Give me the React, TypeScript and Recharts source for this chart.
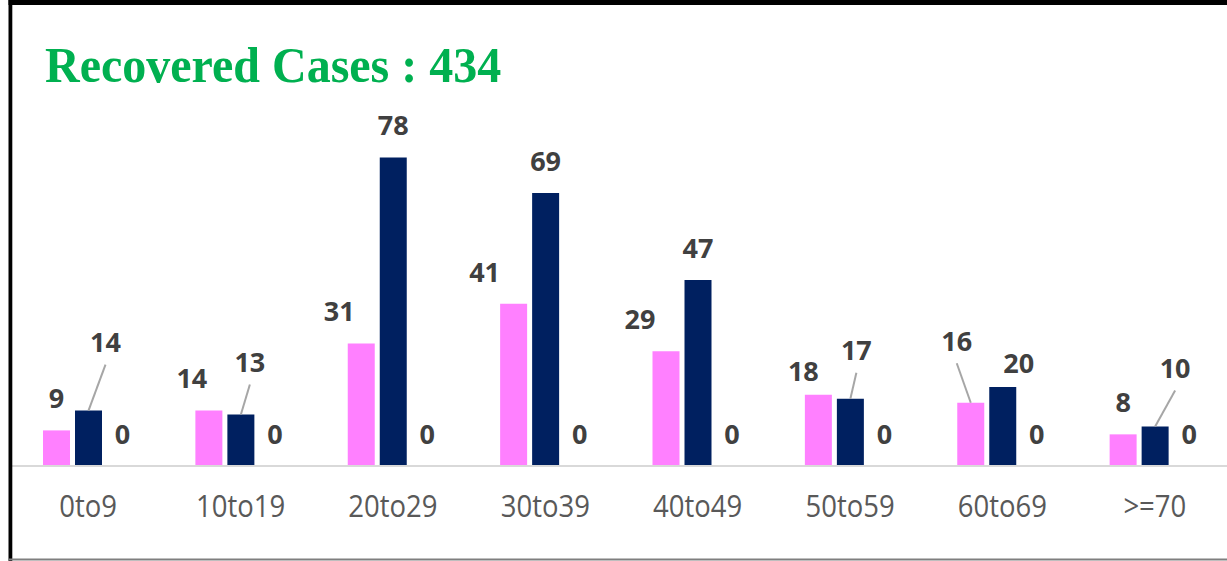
import React from 'react';
import { BarChart, Bar, XAxis, YAxis, LabelList } from 'recharts';

const categories = ['0to9', '10to19', '20to29', '30to39', '40to49', '50to59', '60to69', '>=70'];
const femaleValues = [9, 14, 31, 41, 29, 18, 16, 8];
const maleValues = [14, 13, 78, 69, 47, 17, 20, 10];
const otherValues = [0, 0, 0, 0, 0, 0, 0, 0];
const titleText = 'Recovered Cases : 434';

const data = categories.map((cat, i) => ({
  cat,
  female: femaleValues[i],
  male: maleValues[i],
  other: otherValues[i],
}));

type Nudge = { dx: number; dy: number; leader?: boolean };
const labelNudges: Record<string, Record<number, Nudge>> = {
  female: {
    1: { dx: -17, dy: 0 },
    2: { dx: -22, dy: 0 },
    3: { dx: -29, dy: 0 },
    4: { dx: -26, dy: 0 },
    5: { dx: -15, dy: 8 },
    6: { dx: -14, dy: -29.5, leader: true },
  },
  male: {
    0: { dx: 17, dy: -36, leader: true },
    1: { dx: 9, dy: -20, leader: true },
    5: { dx: 6, dy: -16, leader: true },
    6: { dx: 16, dy: 8.6 },
    7: { dx: 20, dy: -26, leader: true },
  },
  other: {},
};

const makeLabel = (key: string, baseDx: number) => (props: any) => {
  const { x, y, width, height, value, index } = props;
  const cx = Number(x) + Number(width) / 2;
  const bottom = Math.max(Number(y), Number(y) + Number(height));
  const top = Number(value) === 0 ? bottom : Math.min(Number(y), Number(y) + Number(height));
  const n: Nudge = labelNudges[key][index] || { dx: 0, dy: 0 };
  const lx = cx + n.dx + baseDx;
  const ly = top - 32 + n.dy;
  return (
    <g key={`${key}-${index}`}>
      {n.leader ? (
        <line x1={lx} y1={ly + 22} x2={cx} y2={top} stroke="#a6a6a6" strokeWidth={2} />
      ) : null}
      <text
        x={lx}
        y={ly + 9.7}
        textAnchor="middle"
        fontFamily="'Open Sans', Lato, sans-serif"
        fontWeight={700}
        fontSize={27}
        fill="#404040"
      >
        {value}
      </text>
    </g>
  );
};

const CatTick = (props: any) => {
  const { x, y, payload } = props;
  return (
    <text
      transform={`translate(${x},${y + 42.7}) scale(1,1.12)`}
      textAnchor="middle"
      fontFamily="'Open Sans', Lato, sans-serif"
      fontSize={27.5}
      fill="#595959"
    >
      {payload.value}
    </text>
  );
};

export default function App() {
  return (
    <div style={{ position: 'absolute', left: 0, top: 0, width: 1227, height: 561, overflow: 'hidden', background: '#fff' }}>
      <BarChart
        width={1240}
        height={561}
        data={data}
        margin={{ top: 110, right: 9, left: 12, bottom: 0 }}
        barSize={27}
        barGap={5}
      >
        <XAxis
          dataKey="cat"
          height={95}
          axisLine={{ stroke: '#d9d9d9', strokeWidth: 2 }}
          tickLine={false}
          tick={<CatTick />}
          interval={0}
        />
        <YAxis hide domain={[0, 90]} />
        <Bar dataKey="female" fill="#FF80FF" isAnimationActive={false}>
          <LabelList dataKey="female" content={makeLabel('female', 0)} />
        </Bar>
        <Bar dataKey="male" fill="#002060" isAnimationActive={false}>
          <LabelList dataKey="male" content={makeLabel('male', 0)} />
        </Bar>
        <Bar dataKey="other" fill="transparent" minPointSize={1} isAnimationActive={false}>
          <LabelList dataKey="other" content={makeLabel('other', 2)} />
        </Bar>
      </BarChart>
      <svg
        width={1227}
        height={561}
        style={{ position: 'absolute', left: 0, top: 0, pointerEvents: 'none' }}
      >
        <rect x={8.5} y={0} width={1220} height={5} fill="#000" />
        <rect x={8.5} y={0} width={3.8} height={561} fill="#000" />
        <rect x={8.5} y={558.5} width={1220} height={2} fill="#7f7f7f" />
        <text
          transform="translate(45,81.7) scale(1,1.06)"
          fontFamily="'Liberation Serif', 'Times New Roman', serif"
          fontWeight={700}
          fontSize={48}
          fill="#00B050"
        >
          {titleText}
        </text>
      </svg>
    </div>
  );
}
